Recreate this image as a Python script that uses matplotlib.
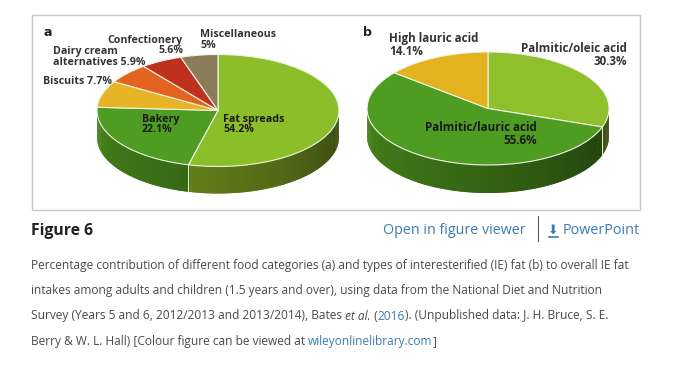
import numpy as np
import matplotlib.pyplot as plt
from matplotlib.collections import PolyCollection
from matplotlib.colors import to_rgb

# panel a: food categories
cats_a = ["Fat spreads", "Bakery", "Biscuits", "Dairy cream\nalternatives",
          "Confectionery", "Miscellaneous"]
vals_a = [54.2, 22.1, 7.7, 5.9, 5.6, 5.0]
cols_a = ["#8cbe2a", "#4e9c22", "#e6b426", "#e4631e", "#c0301e", "#8c7d5a"]
sep_a = ["\n", "\n", " ", " ", "\n", "\n"]

# panel b: types of IE fat
cats_b = ["Palmitic/oleic acid", "Palmitic/lauric acid", "High lauric acid"]
vals_b = [30.3, 55.6, 14.1]
cols_b = ["#8fbf2b", "#4e9c22", "#e2b21f"]
sep_b = ["\n", "\n", "\n"]

W, H = 673, 366
fig = plt.figure(figsize=(W / 100, H / 100), dpi=100)
fig.patch.set_facecolor("white")


def fx(x):
    return x / W


def fy(y):
    return 1 - y / H


def shade(c, t):
    # lighter on the left of the front wall, darker towards the right
    u = ((t % 360) - 180) / 180.0
    f = 0.84 - 0.46 * u ** 1.3
    r, g, b = to_rgb(c)
    return (min(1, r * f * 1.02), g * f * 0.97, b * f * 0.9)


def pie3d(cx, cy, rx, ry, depth, vals, cols):
    pad = 0.1
    d = depth / ry
    w = 2 * (1 + pad) * rx
    h = (2 + 2 * pad + d) * ry
    left = cx - (1 + pad) * rx
    top = cy - (1 + pad) * ry
    ax = fig.add_axes([fx(left), fy(top + h), w / W, h / H])
    wedges, _ = ax.pie(vals, colors=cols, startangle=90, counterclock=False,
                       wedgeprops=dict(edgecolor="#eef3e0", linewidth=0.8))
    polys, fcs = [], []
    for wdg, c in zip(wedges, cols):
        ts = np.linspace(wdg.theta1, wdg.theta2,
                         max(2, int(abs(wdg.theta2 - wdg.theta1)) + 1))
        for t0, t1 in zip(ts[:-1], ts[1:]):
            tm = (t0 + t1) / 2
            if np.sin(np.radians(tm)) >= 0:
                continue
            # small overlap so neighbouring strips leave no seams
            a0, a1 = np.radians(t0 - 0.4), np.radians(t1 + 0.4)
            polys.append([(np.cos(a0), np.sin(a0)), (np.cos(a1), np.sin(a1)),
                          (np.cos(a1), np.sin(a1) - d), (np.cos(a0), np.sin(a0) - d)])
            fcs.append(shade(c, tm))
    ax.add_collection(PolyCollection(polys, facecolors=fcs, edgecolors="none",
                                     zorder=0.5))
    for wdg in wedges:
        # light seam where two slices meet on the front wall
        a = np.radians(wdg.theta1)
        if np.sin(a) < -0.05:
            ax.plot([np.cos(a)] * 2, [np.sin(a), np.sin(a) - d],
                    color="#e8eed8", lw=0.7, zorder=0.8)
    ax.set_aspect("auto")
    ax.set_xlim(-1 - pad, 1 + pad)
    ax.set_ylim(-1 - d - pad, 1 + pad)
    ax.axis("off")
    return ax


pie3d(218, 110.5, 121, 56, 27, vals_a, cols_a)
pie3d(488, 108.5, 121, 56.5, 28, vals_b, cols_b)


def label(x, y, s, ha="left", color="#333333", multi=None, size=7.7):
    fig.text(fx(x), fy(y), s, ha=ha, va="center", multialignment=multi or ha,
             color=color, family="Open Sans", fontweight="bold", fontsize=size,
             linespacing=0.92)


def lab_text(cats, vals, seps, i):
    return f"{cats[i]}{seps[i]}{vals[i]:g}%"


# panel a labels
label(223, 124.5, lab_text(cats_a, vals_a, sep_a, 0), color="#1a1a1a")
label(142, 124.5, lab_text(cats_a, vals_a, sep_a, 1), color="#1a1a1a")
label(43, 82, lab_text(cats_a, vals_a, sep_a, 2))
label(53, 57, lab_text(cats_a, vals_a, sep_a, 3))
label(183, 45.5, lab_text(cats_a, vals_a, sep_a, 4), ha="right")
label(200, 40, lab_text(cats_a, vals_a, sep_a, 5))

# panel b labels (panel image is drawn a little larger)
label(627, 55, lab_text(cats_b, vals_b, sep_b, 0), ha="right", size=8.4)
label(425, 134, lab_text(cats_b, vals_b, sep_b, 1), color="#1a1a1a",
      multi="right", size=8.4)
label(389, 45, lab_text(cats_b, vals_b, sep_b, 2), size=8.4)

fig.text(fx(43), fy(33), "a", ha="left", va="center", fontsize=9,
         fontweight="bold", color="#222222", family="DejaVu Sans")
fig.text(fx(363), fy(33), "b", ha="left", va="center", fontsize=9,
         fontweight="bold", color="#222222", family="DejaVu Sans")

# figure frame
frame = plt.Rectangle((fx(31.5), fy(210)), fx(640) - fx(31.5), fy(15) - fy(210),
                      transform=fig.transFigure, fill=False, edgecolor="#c8c8c8",
                      linewidth=1)
fig.add_artist(frame)

# heading row
fig.text(fx(31), fy(235), "Figure 6", ha="left", va="baseline", fontsize=11.3,
         fontweight="bold", family="Open Sans", color="#222222")
link = "#3a7bb3"
fig.text(fx(526), fy(234), "Open in figure viewer", ha="right", va="baseline",
         fontsize=10.3, family="Open Sans", color=link)
fig.add_artist(plt.Line2D([fx(538), fx(538)], [fy(216), fy(241)],
                          transform=fig.transFigure, color="#555555", lw=0.8))
fig.text(fx(553), fy(233.5), "\u2b07", ha="center", va="baseline", fontsize=9,
         family="DejaVu Sans", color=link)
fig.add_artist(plt.Line2D([fx(549), fx(558)], [fy(236.5), fy(236.5)],
                          transform=fig.transFigure, color=link, lw=1.2))
fig.text(fx(639.5), fy(234), "PowerPoint", ha="right", va="baseline",
         fontsize=10.4, family="Open Sans", color=link)

# caption, with inline styled runs
cap_col = "#4a4a4a"
cap_lines = [
    [("Percentage contribution of different food categories (a) and types of "
      "interesterified (IE) fat (b) to overall IE fat", "normal", cap_col)],
    [("intakes among adults and children (1.5 years and over), using data from "
      "the National Diet and Nutrition", "normal", cap_col)],
    [("Survey (Years 5 and 6, 2012/2013 and 2013/2014), Bates ", "normal", cap_col),
     ("et al.", "italic", cap_col), (" (", "normal", cap_col),
     ("2016", "normal", link),
     ("). (Unpublished data: J. H. Bruce, S. E.", "normal", cap_col)],
    [("Berry & W. L. Hall) [Colour figure can be viewed at ", "normal", cap_col),
     ("wileyonlinelibrary.com", "normal", link), ("]", "normal", cap_col)],
]
cap_y = [268.5, 294, 319.5, 345]

bg = fig.add_axes([0, 0, 1, 1])
bg.axis("off")
for runs, y in zip(cap_lines, cap_y):
    prev = None
    for s, style, c in runs:
        kw = dict(fontsize=8.6, family="Open Sans", style=style, color=c)
        if prev is None:
            prev = bg.text(fx(31), fy(y), s, ha="left", va="baseline",
                           transform=fig.transFigure, **kw)
        else:
            prev = bg.annotate(s, xy=(1, 0), xycoords=prev, ha="left",
                               va="bottom", **kw)

fig.savefig("out.png", dpi=100)
